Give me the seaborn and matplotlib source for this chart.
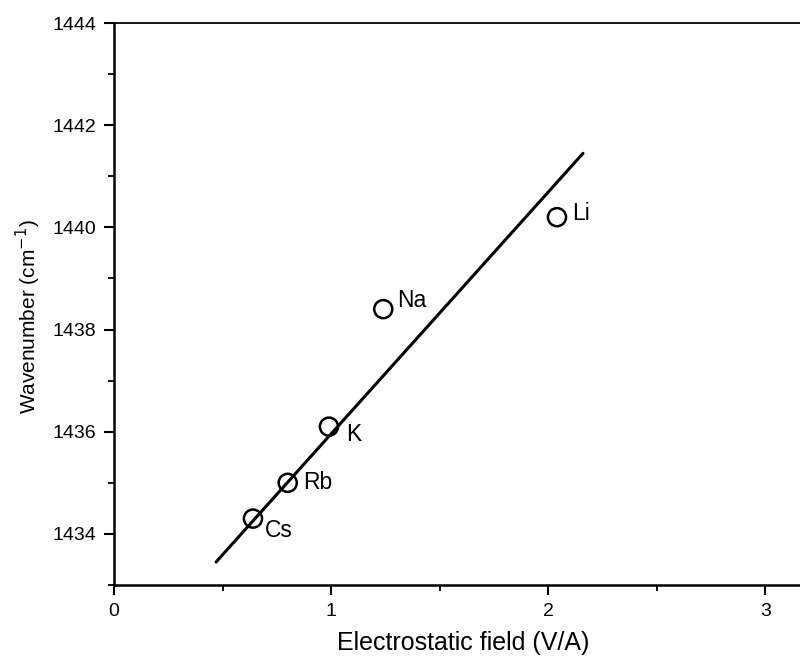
import numpy as np
import pandas as pd
import matplotlib
matplotlib.use("Agg")
import matplotlib.pyplot as plt
from matplotlib.ticker import MultipleLocator
import seaborn as sns

# Cation data: electrostatic field vs. band position
cations = ["Cs", "Rb", "K", "Na", "Li"]
field = [0.64, 0.80, 0.99, 1.24, 2.04]
wavenumber = [1434.3, 1435.0, 1436.1, 1438.4, 1440.2]

# Fitted straight line (end points)
fit_x = [0.47, 2.16]
fit_y = [1433.45, 1441.45]

# Label offsets (points) for each cation annotation
label_offsets = {"Cs": (8.5, -8.5), "Rb": (11, 0), "K": (12, -6), "Na": (10, 6), "Li": (11, 2.5)}

sns.set_theme(style="ticks")
plt.rcParams["font.family"] = ["Liberation Sans", "DejaVu Sans"]

fig = plt.figure(figsize=(8.0, 6.66), dpi=100)
ax = fig.add_axes([0.1425, 0.1216, 0.874, 0.8438])

df = pd.DataFrame({"field": field, "wavenumber": wavenumber, "cation": cations})
fit_df = pd.DataFrame({"x": fit_x, "y": fit_y})

sns.lineplot(data=fit_df, x="x", y="y", ax=ax, color="black", linewidth=2.2)
sns.scatterplot(data=df, x="field", y="wavenumber", ax=ax, marker="o", s=170,
                facecolor="none", edgecolor="black", linewidth=1.8, zorder=3)

for name, xv, yv in zip(cations, field, wavenumber):
    dx, dy = label_offsets[name]
    ax.annotate(name, (xv, yv), xytext=(dx, dy), textcoords="offset points",
                ha="left", va="center", fontsize=16.5, color="black")

ax.set_xlim(0, 3.22)
ax.set_ylim(1433, 1444)
ax.xaxis.set_major_locator(MultipleLocator(1))
ax.xaxis.set_minor_locator(MultipleLocator(0.5))
ax.yaxis.set_major_locator(MultipleLocator(2))
ax.yaxis.set_minor_locator(MultipleLocator(1))
ax.set_yticks([1434, 1436, 1438, 1440, 1442, 1444])

for side in ["left", "bottom"]:
    ax.spines[side].set_linewidth(1.8)
    ax.spines[side].set_color("black")
ax.spines["top"].set_linewidth(1.3)
ax.spines["top"].set_color("black")
ax.spines["right"].set_visible(False)

ax.tick_params(which="major", direction="out", length=7, width=1.5, labelsize=14, colors="black", pad=6)
ax.tick_params(which="minor", direction="out", length=4, width=1.3, colors="black")

ax.set_xlabel("Electrostatic field (V/A)", fontsize=18, labelpad=8, color="black")
ax.set_ylabel("Wavenumber (cm$^{-1}$)", fontsize=15, color="black", va="center")
ax.yaxis.set_label_coords(-0.123, 0.477)

fig.savefig("out.png", dpi=100, facecolor="white")
